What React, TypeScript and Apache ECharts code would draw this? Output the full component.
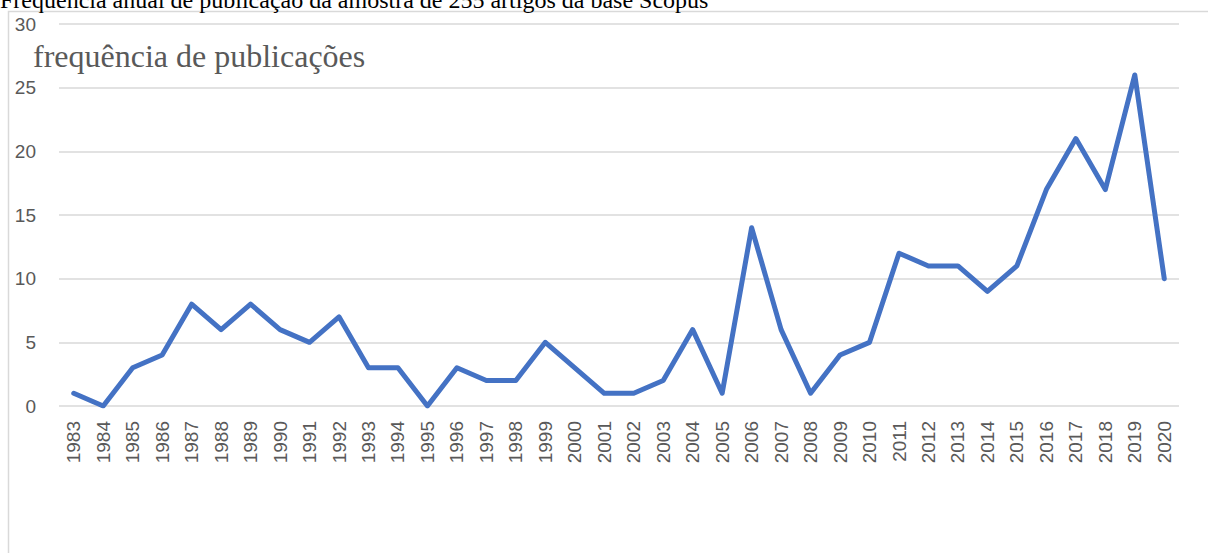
import React, { useEffect, useRef } from "react";
import * as echarts from "echarts";

const years = [
  "1983","1984","1985","1986","1987","1988","1989","1990","1991","1992",
  "1993","1994","1995","1996","1997","1998","1999","2000","2001","2002",
  "2003","2004","2005","2006","2007","2008","2009","2010","2011","2012",
  "2013","2014","2015","2016","2017","2018","2019","2020",
];
const publications = [
  1, 0, 3, 4, 8, 6, 8, 6, 5, 7,
  3, 3, 0, 3, 2, 2, 5, 3, 1, 1,
  2, 6, 1, 14, 6, 1, 4, 5, 12, 11,
  11, 9, 11, 17, 21, 17, 26, 10,
];
const titleText = "Frequência anual de publicação da amostra de 255 artigos da base Scopus";
const yAxisName = "frequência de publicações";

export default function App() {
  const ref = useRef<HTMLDivElement>(null);
  useEffect(() => {
    if (!ref.current) return;
    const chart = echarts.init(ref.current, null, { renderer: "svg" });
    chart.setOption({
      animation: false,
      backgroundColor: "#ffffff",
      grid: { left: 59, right: 29, top: 24, bottom: 147, containLabel: false },
      xAxis: {
        type: "category",
        data: years,
        boundaryGap: true,
        axisLine: { show: false },
        axisTick: { show: false },
        axisLabel: {
          rotate: 90,
          color: "#595959",
          fontSize: 19,
          fontFamily: "Liberation Sans, Arial, sans-serif",
          margin: 15,
          interval: 0,
        },
      },
      yAxis: {
        type: "value",
        min: 0,
        max: 30,
        interval: 5,
        axisLine: { show: false },
        axisTick: { show: false },
        axisLabel: {
          color: "#595959",
          fontSize: 19,
          fontFamily: "Liberation Sans, Arial, sans-serif",
          margin: 23,
        },
        splitLine: { lineStyle: { color: "#d9d9d9", width: 1.5 } },
      },
      series: [
        {
          type: "line",
          data: publications,
          symbol: "none",
          lineStyle: { color: "#4472C4", width: 5, join: "round", cap: "round" },
        },
      ],
      graphic: [
        {
          type: "rect",
          shape: { x: 8.5, y: 11.5, width: 1300, height: 700 },
          style: { fill: "none", stroke: "#d9d9d9", lineWidth: 1.5 },
          silent: true,
          z: -1,
        },
        {
          type: "text",
          x: 0,
          y: 0,
          style: {
            text: titleText,
            fill: "#000000",
            font: "24px 'Liberation Serif', 'Times New Roman', serif",
            verticalAlign: "middle",
            align: "left",
          },
        },
        {
          type: "text",
          x: 33,
          y: 56,
          style: {
            text: yAxisName,
            fill: "#595959",
            font: "32px 'Liberation Serif', 'Times New Roman', serif",
            verticalAlign: "middle",
            align: "left",
          },
        },
      ],
    });
    return () => chart.dispose();
  }, []);
  return (
    <div
      ref={ref}
      style={{ position: "absolute", left: 0, top: 0, width: 1208, height: 553 }}
    />
  );
}
